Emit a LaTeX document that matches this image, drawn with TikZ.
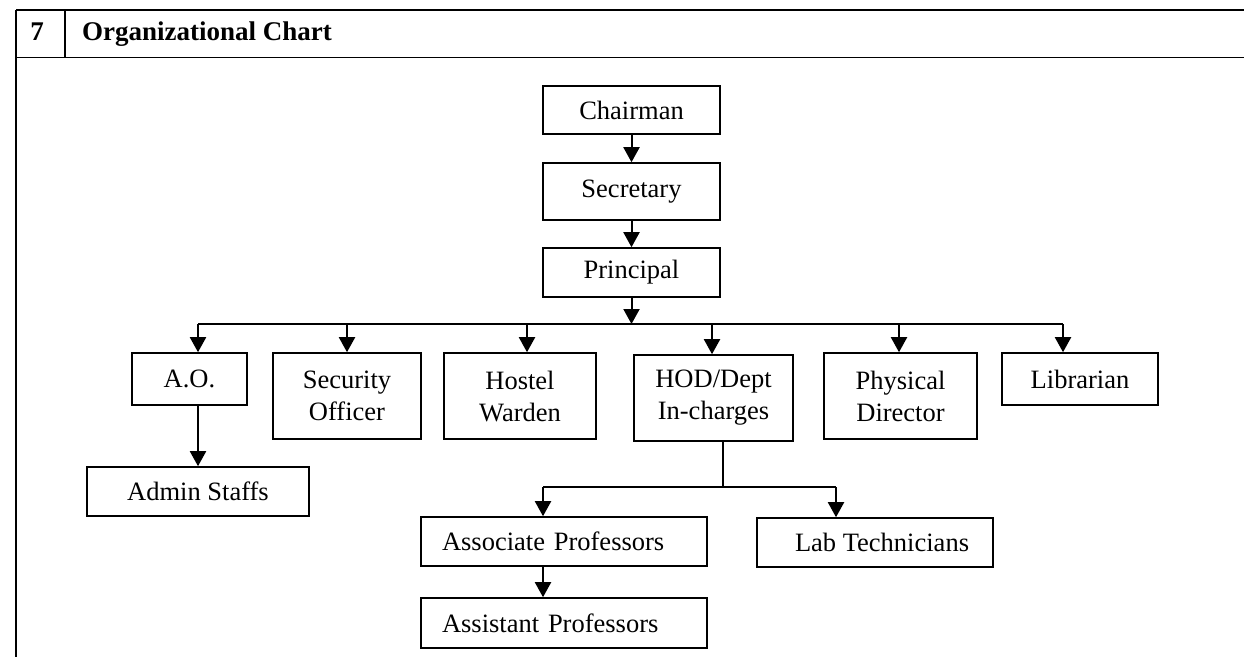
\documentclass[tikz,border=0pt]{standalone}
\usepackage{fontspec}
\setmainfont{Liberation Serif}
\usetikzlibrary{arrows.meta}
\tikzset{
  box/.style={draw, line width=1.6pt, inner sep=0pt, align=center,
    font=\fontsize{26.5}{32}\selectfont},
  lbox/.style={box, align=left, inner xsep=21pt},
  arr/.style={line width=2pt, -{Triangle[width=16pt,length=15pt]}},
  bar/.style={line width=1.3pt},
  rule/.style={line width=1.7pt},
  hdr/.style={font=\fontsize{27}{32}\selectfont\bfseries, inner sep=0pt}
}
\begin{document}
\begin{tikzpicture}[x=1pt, y=-1pt]
\useasboundingbox (0,0) rectangle (1244,657);
% table frame
\draw[rule] (16,10) -- (1244,10);
\draw[rule] (16,57.5) -- (1244,57.5);
\draw[rule] (16,10) -- (16,657);
\draw[rule] (65,10) -- (65,57.5);
\node[hdr, anchor=base] (num) at (37,40) {7};
\node[hdr, anchor=base west] (title) at (82,40) {Organizational Chart};

% boxes
\node[box, minimum width=177pt, minimum height=48pt] (chair) at (631.5,110) {Chairman};
\node[box, minimum width=177pt, minimum height=57pt] (secr) at (631.5,191.5) {Secretary};
\node[box, minimum width=177pt, minimum height=49pt] (prin) at (631.5,272.5) {Principal};

\node[box, minimum width=115pt, minimum height=52pt] (ao) at (189.5,379) {A.O.};
\node[box, minimum width=148pt, minimum height=86pt] (secoff) at (347,396) {Security\\Officer};
\node[box, minimum width=152pt, minimum height=86pt] (hostel) at (520,396) {Hostel\\Warden};
\node[box, minimum width=159pt, minimum height=86pt] (hod) at (713.5,398) {HOD/Dept\\In-charges};
\node[box, minimum width=153pt, minimum height=86pt] (phys) at (900.5,396) {Physical\\Director};
\node[box, minimum width=156pt, minimum height=52pt] (lib) at (1080,379) {Librarian};

\node[box, minimum width=222pt, minimum height=49pt] (admin) at (198,491.5) {Admin Staffs};
\node[lbox, text width=244pt, minimum height=49pt] (assoc) at (564,541.5) {Associate Professors};
\node[lbox, text width=244pt, minimum height=50pt] (asst) at (564,623) {Assistant Professors};
\node[box, minimum width=236pt, minimum height=49pt] (lab) at (875,542.5) {\hspace*{14pt}Lab Technicians};

% main drop coordinates
\coordinate (barc) at (631.5,324);
\coordinate (dao) at (198,324);
\coordinate (dsec) at (347,324);
\coordinate (dhos) at (527,324);
\coordinate (dhod) at (712,324);
\coordinate (dphy) at (899,324);
\coordinate (dlib) at (1063,324);

% connectors
\draw[arr] (chair.south) -- (secr.north);
\draw[arr] (secr.south) -- (prin.north);
\draw[arr] (prin.south) -- (barc);
\draw[bar] (dao) -- (dlib);
\draw[arr] (dao) -- (ao.north -| dao);
\draw[arr] (dsec) -- (secoff.north -| dsec);
\draw[arr] (dhos) -- (hostel.north -| dhos);
\draw[arr] (dhod) -- (hod.north -| dhod);
\draw[arr] (dphy) -- (phys.north -| dphy);
\draw[arr] (dlib) -- (lib.north -| dlib);
\draw[arr] (ao.south -| admin) -- (admin.north);

% HOD sub-tree
\coordinate (hodj) at (723,487);
\coordinate (dassoc) at (543,487);
\coordinate (dlab) at (836,487);
\draw[bar] (hod.south -| hodj) -- (hodj);
\draw[bar] (dassoc) -- (dlab);
\draw[arr] (dassoc) -- (assoc.north -| dassoc);
\draw[arr] (dlab) -- (lab.north -| dlab);
\draw[arr] (assoc.south -| dassoc) -- (asst.north -| dassoc);
\end{tikzpicture}
\end{document}
